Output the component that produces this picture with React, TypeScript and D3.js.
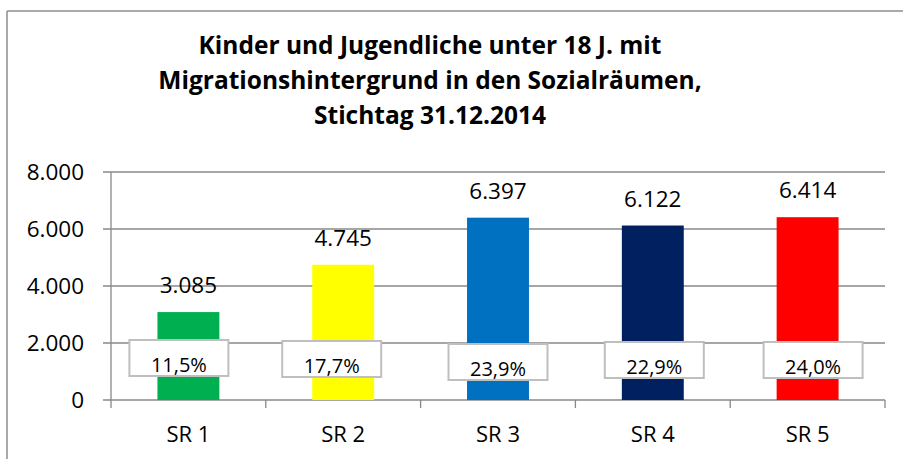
import React from "react";
import * as d3 from "d3";

const categories = ["SR 1", "SR 2", "SR 3", "SR 4", "SR 5"];
const values = [3085, 4745, 6397, 6122, 6414];
const shares = ["11,5%", "17,7%", "23,9%", "22,9%", "24,0%"];
const colors = ["#00B050", "#FFFF00", "#0070C0", "#002060", "#FF0000"];
const yTicks = [0, 2000, 4000, 6000, 8000];
const titleLines = [
  "Kinder und Jugendliche unter 18 J. mit",
  "Migrationshintergrund in den Sozialräumen,",
  "Stichtag 31.12.2014",
];

// layout nudges for the share boxes (pixels, relative to bar centre / zero line)
const boxDx = [-9.5, -11.5, 0, 1.5, 5.5];
const boxTop = [-60, -59, -56, -58, -58];

const W = 903;
const H = 459;
const FONT = "'Open Sans', Lato, sans-serif";

export default function App() {
  const x = d3.scaleBand<string>().domain(categories).range([111, 885]).paddingInner(0.6).paddingOuter(0.3);
  const band = d3.scaleBand<string>().domain(categories).range([111, 885]);
  const y = d3.scaleLinear().domain([0, 8000]).range([400, 172]);
  const fmt = (v: number) => d3.format(",")(v).replace(/,/g, ".");
  const grid = "#888888";

  return (
    <svg width={W} height={H} style={{ position: "absolute", left: 0, top: 0, background: "#fff" }} fontFamily={FONT}>
      <rect x={0} y={0} width={W} height={H} fill="#fff" />
      {/* outer chart border */}
      <line x1={7} x2={W} y1={11} y2={11} stroke="#8c8c8c" strokeWidth={1.5} />
      <line x1={7} x2={7} y1={11} y2={H} stroke="#8c8c8c" strokeWidth={1.5} />

      {/* title */}
      {titleLines.map((t, i) => (
        <text key={i} x={430} y={54 + i * 35} textAnchor="middle" fontWeight={700} fontSize={24.5} fill="#000">
          {t}
        </text>
      ))}

      {/* gridlines and y ticks */}
      {yTicks.map((t) => (
        <g key={t}>
          <line x1={103} x2={885} y1={y(t)} y2={y(t)} stroke={grid} strokeWidth={1.3} />
          <text x={84} y={y(t) + 8} textAnchor="end" fontSize={22.5} fill="#000">
            {fmt(t)}
          </text>
        </g>
      ))}
      {/* y axis */}
      <line x1={111} x2={111} y1={172} y2={408} stroke={grid} strokeWidth={1.3} />
      {/* x ticks */}
      {categories.map((c) => (
        <line key={c} x1={(band(c) as number) + band.bandwidth()} x2={(band(c) as number) + band.bandwidth()} y1={400} y2={408} stroke={grid} strokeWidth={1.3} />
      ))}

      {/* bars */}
      {categories.map((c, i) => (
        <rect key={c} x={x(c)} y={y(values[i])} width={x.bandwidth()} height={400 - y(values[i])} fill={colors[i]} />
      ))}

      {/* value labels */}
      {categories.map((c, i) => (
        <text key={c} x={(x(c) as number) + x.bandwidth() / 2} y={Math.max(y(values[i]) - 19, 190)} textAnchor="middle" fontSize={22.5} fill="#000">
          {fmt(values[i])}
        </text>
      ))}

      {/* share boxes */}
      {categories.map((c, i) => {
        const cx = (x(c) as number) + x.bandwidth() / 2 + boxDx[i];
        const top = y(0) + boxTop[i];
        return (
          <g key={c}>
            <rect x={cx - 49.5} y={top} width={99} height={36} fill="#fff" stroke="#bfbfbf" strokeWidth={2} />
            <text x={cx} y={top + 32} textAnchor="middle" fontSize={20} fill="#000">
              {shares[i]}
            </text>
          </g>
        );
      })}

      {/* category labels */}
      {categories.map((c) => (
        <text key={c} x={(band(c) as number) + band.bandwidth() / 2} y={441.5} textAnchor="middle" fontSize={22} fill="#000">
          {c}
        </text>
      ))}
    </svg>
  );
}
